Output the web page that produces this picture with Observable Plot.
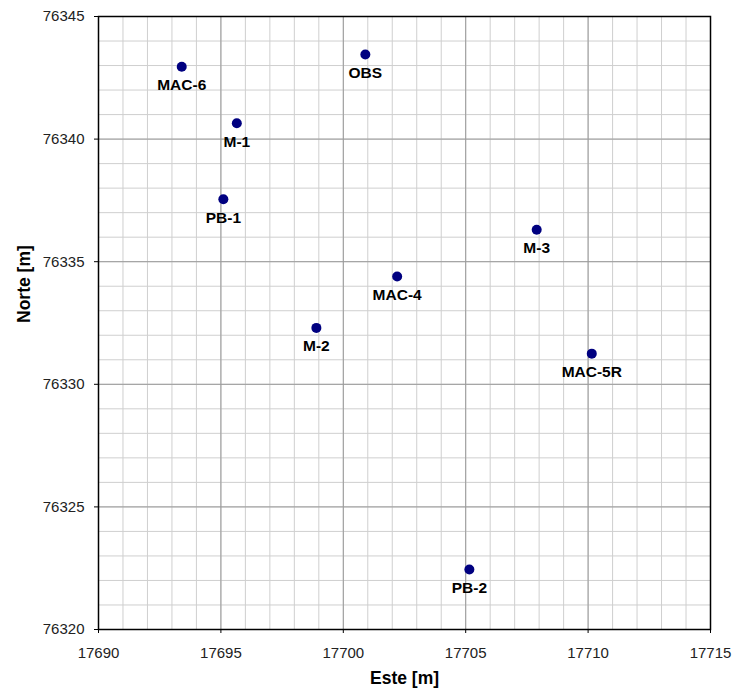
<!DOCTYPE html>
<html><head><meta charset="utf-8">
<script src="https://cdn.jsdelivr.net/npm/d3@7"></script>
<script src="https://cdn.jsdelivr.net/npm/@observablehq/plot@0.6"></script>
<style>body{margin:0;background:#fff;} svg{display:block;}</style>
</head><body><div id="chart"></div>
<script>
const names = ["MAC-6","M-1","PB-1","OBS","M-3","MAC-4","M-2","MAC-5R","PB-2"];
const este  = [17693.4,17695.65,17695.1,17700.9,17707.9,17702.2,17698.9,17710.15,17705.15];
const norte = [76342.95,76340.65,76337.55,76343.45,76336.3,76334.4,76332.3,76331.25,76322.45];
const xTicks = [17690,17695,17700,17705,17710,17715];
const yTicks = [76320,76325,76330,76335,76340,76345];
const xMinor = d3.range(17690,17716,1);
const yMinor = d3.range(76320,76346,1);
const data = names.map((n,i)=>({name:n,x:este[i],y:norte[i]}));
const font = "Arial, 'Liberation Sans', sans-serif";
const chart = Plot.plot({
  width:735, height:698,
  marginLeft:98, marginRight:25, marginTop:16, marginBottom:69,
  style:{fontFamily:font, fontSize:"15px", color:"#000", background:"#fff"},
  x:{domain:[17690,17715], ticks:xTicks, tickFormat:d=>String(d), label:null},
  y:{domain:[76320,76345], ticks:yTicks, tickFormat:d=>String(d), label:null},
  marks:[
    Plot.ruleX(xMinor,{stroke:"#cfcfcf", strokeWidth:1}),
    Plot.ruleY(yMinor,{stroke:"#cfcfcf", strokeWidth:1}),
    Plot.ruleX(xTicks,{stroke:"#9a9a9a", strokeWidth:1}),
    Plot.ruleY(yTicks,{stroke:"#9a9a9a", strokeWidth:1}),
    Plot.frame({stroke:"#000", strokeWidth:1.5}),
    Plot.axisX({ticks:xTicks, tickSize:4, tickPadding:14, fontSize:15, tickFormat:d=>String(d), label:null, fill:"#222", stroke:"#000"}),
    Plot.axisY({ticks:yTicks, tickSize:4, tickPadding:10, fontSize:15, tickFormat:d=>String(d), label:null, fill:"#222", stroke:"#000"}),
    Plot.dot(data,{x:"x",y:"y",r:5,fill:"#000080",stroke:"none"}),
    Plot.text(data,{x:"x",y:"y",text:"name",dy:18.5,fontWeight:"bold",fontSize:15.5,fill:"#000"}),
    Plot.text(["Este [m]"],{frameAnchor:"bottom",dy:54,fontWeight:"bold",fontSize:17.5,fill:"#000"}),
    Plot.text(["Norte [m]"],{frameAnchor:"left",dx:-74.5,rotate:-90,fontWeight:"bold",fontSize:17.5,fill:"#000"})
  ]
});
document.getElementById("chart").appendChild(chart);
</script></body></html>
